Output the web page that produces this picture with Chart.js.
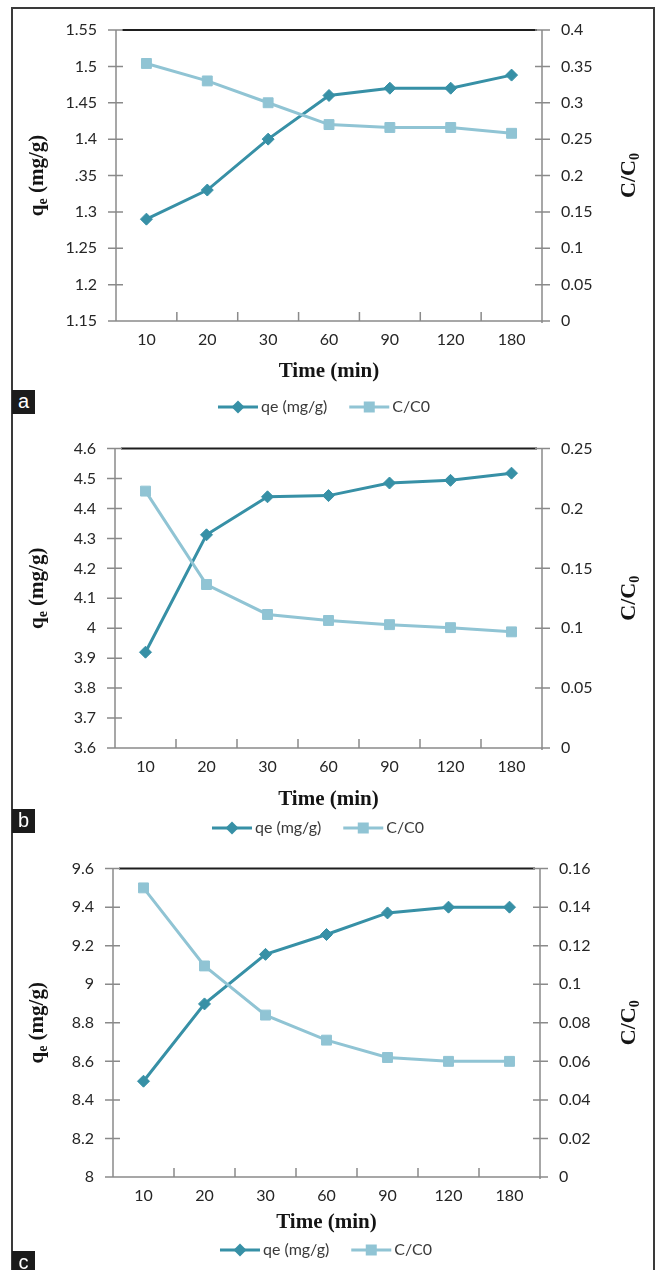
<!DOCTYPE html>
<html><head><meta charset="utf-8">
<script src="https://cdn.jsdelivr.net/npm/chart.js@4.4.0/dist/chart.umd.min.js"></script>
<style>
html,body{margin:0;padding:0;background:#fff;width:656px;height:1270px;overflow:hidden;position:relative;}
#frame{position:absolute;left:11px;top:7px;width:644px;height:1300px;border:2px solid #3a3a3a;box-sizing:border-box;}
canvas{position:absolute;left:0;}
.tag{position:absolute;left:12px;width:23px;height:24px;background:#1b1b1b;color:#fff;font:20px 'Liberation Sans',Arial,sans-serif;line-height:22px;text-align:center;}
</style></head><body>
<div id="frame"></div>
<canvas id="ca" width="656" height="420" style="top:0;width:656px;height:420px"></canvas>
<canvas id="cb" width="656" height="420" style="top:420px;width:656px;height:420px"></canvas>
<canvas id="cc" width="656" height="430" style="top:840px;width:656px;height:430px"></canvas>
<div class="tag" style="top:390px">a</div>
<div class="tag" style="top:809px">b</div>
<div class="tag" style="top:1251px">c</div>
<script>
// ---- data ----
const categories = ['10', '20', '30', '60', '90', '120', '180'];

const qeA = [1.290, 1.330, 1.400, 1.460, 1.470, 1.470, 1.488];
const ccA = [0.354, 0.330, 0.300, 0.270, 0.266, 0.266, 0.258];
const qeB = [3.920, 4.312, 4.439, 4.443, 4.485, 4.494, 4.518];
const ccB = [0.2145, 0.1365, 0.1115, 0.1065, 0.1030, 0.1005, 0.0970];
const qeC = [8.497, 8.898, 9.155, 9.258, 9.370, 9.400, 9.400];
const ccC = [0.150, 0.1095, 0.084, 0.071, 0.062, 0.060, 0.060];

const leftTicksA = ['1.15', '1.2', '1.25', '1.3', '.35', '1.4', '1.45', '1.5', '1.55'];
const rightTicksA = ['0', '0.05', '0.1', '0.15', '0.2', '0.25', '0.3', '0.35', '0.4'];
const leftTicksB = ['3.6', '3.7', '3.8', '3.9', '4', '4.1', '4.2', '4.3', '4.4', '4.5', '4.6'];
const rightTicksB = ['0', '0.05', '0.1', '0.15', '0.2', '0.25'];
const leftTicksC = ['8', '8.2', '8.4', '8.6', '8.8', '9', '9.2', '9.4', '9.6'];
const rightTicksC = ['0', '0.02', '0.04', '0.06', '0.08', '0.1', '0.12', '0.14', '0.16'];

const leftRangeA = [1.15, 1.55, 0.05];
const rightRangeA = [0, 0.4, 0.05];
const leftRangeB = [3.6, 4.6, 0.1];
const rightRangeB = [0, 0.25, 0.05];
const leftRangeC = [8, 9.6, 0.2];
const rightRangeC = [0, 0.16, 0.02];

const seriesNames = ['qe (mg/g)', 'C/C0'];

// ---- styles ----
const QE = '#3790a6';
const CC = '#90c4d4';
const AXC = '#8a8a8a';
const TXT = '#262626';

function drawMarker(ctx, x, y, type, color) {
  ctx.fillStyle = color;
  ctx.beginPath();
  if (type === 'diamond') {
    ctx.moveTo(x - 6.5, y); ctx.lineTo(x, y - 6.5); ctx.lineTo(x + 6.5, y); ctx.lineTo(x, y + 6.5);
  } else {
    ctx.rect(x - 5.5, y - 5.5, 11, 11);
  }
  ctx.closePath();
  ctx.fill();
}

function drawRotTitle(ctx, x, y, parts) {
  ctx.save();
  ctx.translate(x, y);
  ctx.rotate(-Math.PI / 2);
  let total = 0;
  parts.forEach(p => { ctx.font = 'bold ' + p.size + 'px "Liberation Serif", serif'; p.w = ctx.measureText(p.t).width; total += p.w; });
  let cx = -total / 2;
  ctx.fillStyle = '#141414';
  ctx.textBaseline = 'alphabetic';
  ctx.textAlign = 'left';
  parts.forEach(p => { ctx.font = 'bold ' + p.size + 'px "Liberation Serif", serif'; ctx.fillText(p.t, cx, 6.5 + p.dy); cx += p.w; });
  ctx.restore();
}

function deco(p) {
  return {
    id: 'deco',
    beforeDatasetsDraw(chart) {
      const {ctx, chartArea: a, scales} = chart;
      ctx.save();
      ctx.strokeStyle = '#1e1e1e';
      ctx.lineWidth = 2;
      ctx.beginPath();
      ctx.moveTo(a.left + 6, a.top); ctx.lineTo(a.right - 5, a.top);
      ctx.stroke();
      ctx.strokeStyle = AXC;
      ctx.lineWidth = 1.5;
      ctx.beginPath();
      ctx.moveTo(a.left, a.top); ctx.lineTo(a.left, a.bottom);
      ctx.moveTo(a.right, a.top); ctx.lineTo(a.right, a.bottom + 2);
      ctx.moveTo(a.left - 8, a.bottom); ctx.lineTo(a.right + 3, a.bottom);
      scales.y.ticks.forEach(t => { const y = scales.y.getPixelForValue(t.value); ctx.moveTo(a.left - 8, y); ctx.lineTo(a.left + 7, y); });
      scales.y1.ticks.forEach(t => { const y = scales.y1.getPixelForValue(t.value); ctx.moveTo(a.right - 7, y); ctx.lineTo(a.right + 8, y); });
      for (let i = 1; i < categories.length; i++) {
        const x = scales.x.getPixelForValue(i - 0.5);
        ctx.moveTo(x, a.bottom); ctx.lineTo(x, a.bottom - 9);
      }
      ctx.stroke();
      ctx.restore();
    },
    afterDraw(chart) {
      const {ctx, chartArea: a} = chart;
      const midY = (a.top + a.bottom) / 2;
      drawRotTitle(ctx, 36, midY + p.ltOff, [
        {t: 'q', size: 21, dy: 0},
        {t: 'e', size: 14, dy: 4},
        {t: ' (mg/g)', size: 21, dy: 0}
      ]);
      drawRotTitle(ctx, 628, midY, [
        {t: 'C/C', size: 22, dy: 0},
        {t: '0', size: 14, dy: 4}
      ]);
      // legend
      ctx.save();
      ctx.font = '16px Lato, sans-serif';
      ctx.textBaseline = 'middle';
      ctx.textAlign = 'left';
      const t1 = chart.data.datasets[0].label, t2 = chart.data.datasets[1].label;
      const w1 = ctx.measureText(t1).width, w2 = ctx.measureText(t2).width;
      const sw = 40, g = 3, gap = 22;
      const total = sw + g + w1 + gap + sw + g + w2;
      let x = p.legCx - total / 2;
      const cy = a.bottom + p.legOff;
      const sample = (col, type) => {
        ctx.strokeStyle = col; ctx.lineWidth = 3;
        ctx.beginPath(); ctx.moveTo(x, cy); ctx.lineTo(x + sw, cy); ctx.stroke();
        drawMarker(ctx, x + sw / 2, cy, type, col);
      };
      sample(QE, 'diamond'); x += sw + g;
      ctx.fillStyle = '#3a3a3a'; ctx.fillText(t1, x, cy); x += w1 + gap;
      sample(CC, 'square'); x += sw + g;
      ctx.fillStyle = '#3a3a3a'; ctx.fillText(t2, x, cy);
      ctx.restore();
    }
  };
}

function yAxis(pos, range, labels, width) {
  return {
    type: 'linear', position: pos, min: range[0], max: range[1],
    grid: {display: false, drawTicks: false, tickLength: 0},
    border: {display: false},
    afterBuildTicks: s => { s.ticks = labels.map((l, i) => ({value: range[0] + i * range[2]})); },
    ticks: {padding: 19, font: {family: 'Lato', size: 16}, color: TXT, callback: (v, i) => labels[i]},
    afterFit: s => { s.width = width; }
  };
}

function makeChart(id, p) {
  return new Chart(document.getElementById(id), {
    type: 'line',
    data: {
      labels: categories,
      datasets: [
        {label: seriesNames[0], data: p.qe, yAxisID: 'y', borderColor: QE, backgroundColor: QE, borderWidth: 3,
         pointStyle: 'rectRot', pointRadius: 6, pointBorderWidth: 1, tension: 0, order: 2},
        {label: seriesNames[1], data: p.cc, yAxisID: 'y1', borderColor: CC, backgroundColor: CC, borderWidth: 3,
         pointStyle: 'rect', pointRadius: 7, pointBorderWidth: 1, tension: 0, order: 1}
      ]
    },
    options: {
      responsive: false, animation: false, events: [],
      layout: {padding: {top: p.top, bottom: p.bottom, left: 0, right: 0}},
      plugins: {legend: {display: false}, tooltip: {enabled: false}},
      scales: {
        x: {
          type: 'category', offset: true,
          grid: {display: false, drawTicks: false, tickLength: 0, offset: true},
          border: {display: false},
          ticks: {autoSkip: false, maxRotation: 0, minRotation: 0, padding: 9, font: {family: 'Lato', size: 16}, color: TXT},
          title: {display: true, text: 'Time (min)', color: '#141414',
                  font: {family: 'Liberation Serif', size: 21, weight: 'bold'}, padding: {top: 0, bottom: p.tpb}},
          afterFit: s => { s.height = 70; }
        },
        y: yAxis('left', p.lr, p.lt, p.left),
        y1: yAxis('right', p.rr, p.rt, p.rightW)
      }
    },
    plugins: [deco(p)]
  });
}

makeChart('ca', {qe: qeA, cc: ccA, lr: leftRangeA, lt: leftTicksA, rr: rightRangeA, rt: rightTicksA,
  top: 30, bottom: 29, left: 116, rightW: 114, tpb: 6.4, legOff: 86, legCx: 324, ltOff: 0});
makeChart('cb', {qe: qeB, cc: ccB, lr: leftRangeB, lt: leftTicksB, rr: rightRangeB, rt: rightTicksB,
  top: 26, bottom: 22, left: 115, rightW: 114, tpb: 5.4, legOff: 80, legCx: 318, ltOff: -10});
makeChart('cc', {qe: qeC, cc: ccC, lr: leftRangeC, lt: leftTicksC, rr: rightRangeC, rt: rightTicksC,
  top: 27, bottom: 23, left: 113, rightW: 116, tpb: 11.4, legOff: 73, legCx: 326, ltOff: 0});
</script>
</body></html>
